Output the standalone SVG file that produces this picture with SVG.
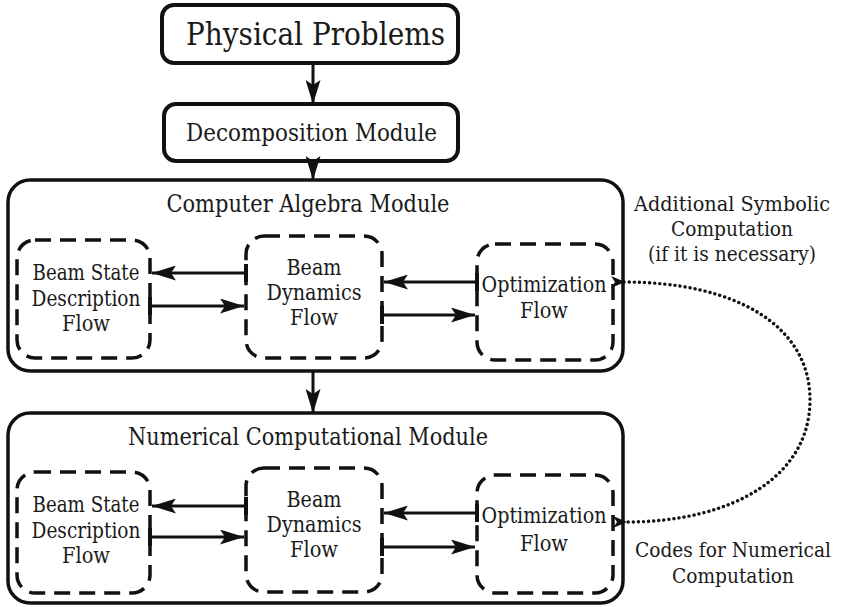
<svg xmlns="http://www.w3.org/2000/svg" width="841" height="607" viewBox="0 0 841 607">
<style>
.t{font-family:"DejaVu Serif",serif;fill:#1a1a1a;text-anchor:middle}
.solid{fill:#fff;stroke:#111;stroke-width:4}
.outer{fill:#fff;stroke:#111;stroke-width:3.5}
.dash{fill:none;stroke:#111;stroke-width:3.5;stroke-dasharray:16 9}
.inner{font-size:21.5px}
.side{font-size:19.5px}
.title{font-size:24px}
.arr{stroke:#111;stroke-width:3;fill:none;marker-end:url(#ah)}
.harr{stroke:#111;stroke-width:3;fill:none;marker-end:url(#ah);marker-start:url(#tick)}
.dot{stroke:#111;stroke-width:3.4;fill:none;stroke-dasharray:0.1 5;stroke-linecap:round;marker-start:url(#sh);marker-end:url(#sh)}
</style>
<defs>
<marker id="ah" viewBox="0 0 24 15" refX="24" refY="7.5" markerWidth="24" markerHeight="15" markerUnits="userSpaceOnUse" orient="auto">
<path d="M0,0 L24,7.5 L0,15 L5,7.5 Z" fill="#111"/>
</marker>
<marker id="tick" viewBox="0 0 4 18" refX="2" refY="9" markerWidth="4" markerHeight="18" markerUnits="userSpaceOnUse" orient="auto">
<rect x="0" y="0" width="4" height="18" fill="#111"/>
</marker>
<marker id="sh" viewBox="0 0 14 12" refX="1" refY="6" markerWidth="14" markerHeight="12" markerUnits="userSpaceOnUse" orient="auto-start-reverse">
<path d="M0,6 L14,0 L10,6 L14,12 Z" fill="#111"/>
</marker>
</defs>

<g id="physical">
<rect class="solid" x="162" y="5" width="296" height="58" rx="12"/>
<text class="t" x="315.5" y="45" style="font-size:32px" textLength="259" lengthAdjust="spacingAndGlyphs">Physical Problems</text>
</g>
<g id="decomposition">
<rect class="solid" x="164" y="104" width="294" height="57" rx="12"/>
<text class="t" x="311.5" y="141" style="font-size:24px" textLength="251" lengthAdjust="spacingAndGlyphs">Decomposition Module</text>
</g>

<g id="cas-module">
<rect class="outer" x="8" y="180" width="615" height="191" rx="22"/>
<text class="t title" x="308" y="212" textLength="283" lengthAdjust="spacingAndGlyphs">Computer Algebra Module</text>
</g>
<g id="cas-beamstate">
<rect class="dash" x="17" y="240" width="133" height="118" rx="18"/>
<text class="t inner" x="86" y="280" textLength="107" lengthAdjust="spacingAndGlyphs">Beam State</text>
<text class="t inner" x="86" y="306" textLength="109" lengthAdjust="spacingAndGlyphs">Description</text>
<text class="t inner" x="86" y="331" textLength="48" lengthAdjust="spacingAndGlyphs">Flow</text>
</g>
<g id="cas-dynamics">
<rect class="dash" x="246" y="236" width="136" height="122" rx="18"/>
<text class="t inner" x="314" y="275" textLength="55" lengthAdjust="spacingAndGlyphs">Beam</text>
<text class="t inner" x="314" y="300" textLength="95" lengthAdjust="spacingAndGlyphs">Dynamics</text>
<text class="t inner" x="314" y="325" textLength="48" lengthAdjust="spacingAndGlyphs">Flow</text>
</g>
<g id="cas-optimization">
<rect class="dash" x="477" y="244" width="136" height="116" rx="18"/>
<text class="t inner" x="544" y="292" textLength="125" lengthAdjust="spacingAndGlyphs">Optimization</text>
<text class="t inner" x="544" y="318" textLength="48" lengthAdjust="spacingAndGlyphs">Flow</text>
</g>

<g id="num-module">
<rect class="outer" x="8" y="413" width="615" height="190" rx="22"/>
<text class="t title" x="308" y="445" textLength="360" lengthAdjust="spacingAndGlyphs">Numerical Computational Module</text>
</g>
<g id="num-beamstate">
<rect class="dash" x="17" y="472" width="133" height="121" rx="18"/>
<text class="t inner" x="86" y="512" textLength="107" lengthAdjust="spacingAndGlyphs">Beam State</text>
<text class="t inner" x="86" y="538" textLength="109" lengthAdjust="spacingAndGlyphs">Description</text>
<text class="t inner" x="86" y="563" textLength="48" lengthAdjust="spacingAndGlyphs">Flow</text>
</g>
<g id="num-dynamics">
<rect class="dash" x="246" y="468" width="136" height="124" rx="18"/>
<text class="t inner" x="314" y="507" textLength="55" lengthAdjust="spacingAndGlyphs">Beam</text>
<text class="t inner" x="314" y="532" textLength="95" lengthAdjust="spacingAndGlyphs">Dynamics</text>
<text class="t inner" x="314" y="557" textLength="48" lengthAdjust="spacingAndGlyphs">Flow</text>
</g>
<g id="num-optimization">
<rect class="dash" x="477" y="475" width="136" height="118" rx="18"/>
<text class="t inner" x="544" y="523" textLength="125" lengthAdjust="spacingAndGlyphs">Optimization</text>
<text class="t inner" x="544" y="551" textLength="48" lengthAdjust="spacingAndGlyphs">Flow</text>
</g>

<g id="labels">
<text class="t side" x="732" y="211" textLength="196" lengthAdjust="spacingAndGlyphs">Additional Symbolic</text>
<text class="t side" x="732" y="236" textLength="122" lengthAdjust="spacingAndGlyphs">Computation</text>
<text class="t side" x="732" y="261" textLength="168" lengthAdjust="spacingAndGlyphs">(if it is necessary)</text>
<text class="t side" x="733" y="557" textLength="196" lengthAdjust="spacingAndGlyphs">Codes for Numerical</text>
<text class="t side" x="733" y="583" textLength="122" lengthAdjust="spacingAndGlyphs">Computation</text>
</g>

<g id="connectors">
<line class="arr" x1="313" y1="63" x2="313" y2="104"/>
<line class="arr" x1="313" y1="161" x2="313" y2="180"/>
<line class="arr" x1="313" y1="371" x2="313" y2="413"/>

<line class="harr" x1="246" y1="273" x2="152" y2="273"/>
<line class="harr" x1="150" y1="306" x2="244" y2="306"/>
<line class="harr" x1="477" y1="282" x2="384" y2="282"/>
<line class="harr" x1="382" y1="315" x2="475" y2="315"/>

<line class="harr" x1="246" y1="506" x2="152" y2="506"/>
<line class="harr" x1="150" y1="537" x2="244" y2="537"/>
<line class="harr" x1="477" y1="513" x2="384" y2="513"/>
<line class="harr" x1="382" y1="547" x2="475" y2="547"/>

<path class="dot" d="M624,282 C735,282 810,325 810,400 C810,475 735,522 626,522"/>
</g>
</svg>
